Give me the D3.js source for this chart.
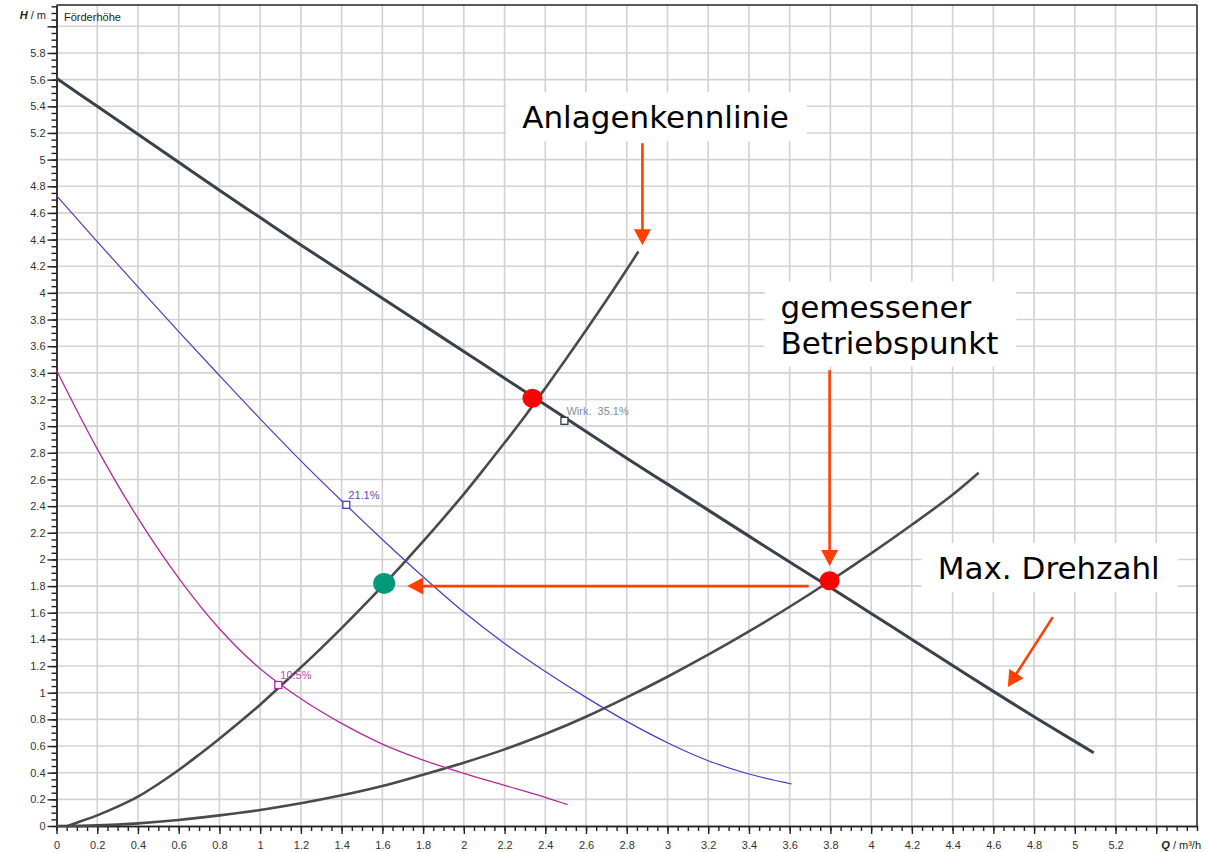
<!DOCTYPE html>
<html><head><meta charset="utf-8">
<script src="https://cdn.jsdelivr.net/npm/d3@7"></script>
<style>
html,body{margin:0;padding:0;background:#fff;}
svg{display:block;}
</style></head>
<body>
<svg id="chart" width="1210" height="852"></svg>
<script>
// ---------- data (Q in m³/h, H in m) ----------
const maxSpeedQ = [0,0.2,0.4,0.6,0.8,1.0,1.2,1.4,1.6,1.8,2.0,2.2,2.4,2.6,2.8,3.0,3.2,3.4,3.6,3.8,4.0,4.2,4.4,4.6,4.8,5.0,5.093];
const maxSpeedH = [5.61,5.40,5.19,4.98,4.77,4.565,4.36,4.16,3.96,3.76,3.56,3.36,3.16,2.96,2.76,2.565,2.37,2.175,1.98,1.79,1.595,1.40,1.205,1.01,0.82,0.635,0.55];
const blueQ = [0,0.2,0.4,0.6,0.8,1.0,1.2,1.4,1.6,1.8,2.0,2.2,2.4,2.6,2.8,3.0,3.2,3.4,3.61];
const blueH = [4.73,4.385,4.045,3.71,3.38,3.055,2.74,2.44,2.15,1.87,1.605,1.37,1.16,0.965,0.785,0.625,0.49,0.39,0.315];
const pinkQ = [0,0.2,0.4,0.6,0.8,1.0,1.2,1.4,1.6,1.8,2.0,2.2,2.4,2.51];
const pinkH = [3.42,2.83,2.31,1.86,1.48,1.18,0.955,0.77,0.615,0.495,0.395,0.305,0.215,0.16];
const sysSteepQ = [0.055,0.1,0.2,0.3,0.4,0.5,0.6,0.7,0.8,0.9,1.0,1.1,1.2,1.3,1.4,1.5,1.6,1.7,1.8,1.9,2.0,2.1,2.2,2.3,2.4,2.5,2.6,2.7,2.8,2.857];
const sysSteepH = [0,0.025,0.08,0.145,0.22,0.315,0.42,0.535,0.655,0.78,0.91,1.05,1.19,1.335,1.485,1.64,1.80,1.965,2.135,2.31,2.49,2.68,2.875,3.075,3.285,3.5,3.72,3.945,4.175,4.31];
const sysFlatQ = [0,0.2,0.4,0.6,0.8,1.0,1.2,1.4,1.6,1.8,2.0,2.2,2.4,2.6,2.8,3.0,3.2,3.4,3.6,3.8,4.0,4.2,4.4,4.528];
const sysFlatH = [0,0.005,0.02,0.045,0.08,0.12,0.17,0.23,0.30,0.385,0.475,0.575,0.69,0.82,0.965,1.12,1.285,1.46,1.645,1.84,2.045,2.26,2.485,2.65];

const effLabels = ["Wirk.  35.1%","21.1%","10.5%"];
const effQ = [2.494,1.423,1.089];
const effH = [3.04,2.41,1.058];

const pointsQ = [2.337,3.796,1.609];
const pointsH = [3.21,1.84,1.82];

const xTickLabels = ["0","0.2","0.4","0.6","0.8","1","1.2","1.4","1.6","1.8","2","2.2","2.4","2.6","2.8","3","3.2","3.4","3.6","3.8","4","4.2","4.4","4.6","4.8","5","5.2"];
const yTickLabels = ["0","0.2","0.4","0.6","0.8","1","1.2","1.4","1.6","1.8","2","2.2","2.4","2.6","2.8","3","3.2","3.4","3.6","3.8","4","4.2","4.4","4.6","4.8","5","5.2","5.4","5.6","5.8"];

const annoTexts = [["Anlagenkennlinie"],["gemessener","Betriebspunkt"],["Max. Drehzahl"]];
const annoQ = [2.287,3.555,4.327];
const annoH = [5.235,3.815,1.853];
// arrows: [Q1,H1,Q2,H2]
const arrows = [[2.877,5.123,2.877,4.358],[3.796,3.42,3.796,1.95],[3.693,1.80,1.722,1.80],[4.892,1.5675,4.671,1.0425]];

// ---------- scales ----------
const svg = d3.select("#chart");
const x = d3.scaleLinear().domain([0,5.6]).range([56.5,1197]);
const y = d3.scaleLinear().domain([0,6.16]).range([826,5]);

const gridColor = "#d2d2d2";
const fontAxis = "'Liberation Sans', Arial, sans-serif";

// grid
const gx = d3.range(1,28).map(i=>+(i*0.2).toFixed(2));
const gy = d3.range(1,31).map(i=>+(i*0.2).toFixed(2));
svg.append("g").selectAll("line").data(gx).join("line")
  .attr("x1",d=>x(d)).attr("x2",d=>x(d)).attr("y1",y(0)).attr("y2",y.range()[1])
  .attr("stroke",gridColor).attr("stroke-width",1.6);
svg.append("g").selectAll("line").data(gy).join("line")
  .attr("y1",d=>y(d)).attr("y2",d=>y(d)).attr("x1",x(0)).attr("x2",x.range()[1])
  .attr("stroke",gridColor).attr("stroke-width",1.6);

// frame
svg.append("line").attr("x1",x(0)).attr("x2",x.range()[1]).attr("y1",y.range()[1]).attr("y2",y.range()[1]).attr("stroke","#222").attr("stroke-width",1.5);
svg.append("line").attr("x1",x.range()[1]).attr("x2",x.range()[1]).attr("y1",y.range()[1]).attr("y2",y(0)).attr("stroke","#222").attr("stroke-width",1.5);

// axes
const minorX = d3.range(0,113).map(i=>+(i*0.05).toFixed(3));
const minorY = d3.range(0,124).map(i=>+(i*0.05).toFixed(3));
const majorX = d3.range(0,28).map(i=>+(i*0.2).toFixed(2));
const majorY = d3.range(0,31).map(i=>+(i*0.2).toFixed(2));

const axX = svg.append("g").attr("transform",`translate(0,${y(0)})`);
axX.call(d3.axisBottom(x).tickValues(minorX).tickSize(5).tickFormat("").tickSizeOuter(0));
axX.call(g=>g.append("g").call(d3.axisBottom(x).tickValues(majorX).tickSize(8).tickSizeOuter(0)
   .tickFormat((d,i)=> i<xTickLabels.length ? xTickLabels[i] : "")));
axX.selectAll("path,line").attr("stroke","#222").attr("stroke-width",1.4);
axX.selectAll("text").attr("font-family",fontAxis).attr("font-size",11).attr("fill","#333").attr("dy","1.05em");

const axY = svg.append("g").attr("transform",`translate(${x(0)},0)`);
axY.call(d3.axisLeft(y).tickValues(minorY).tickSize(5).tickFormat("").tickSizeOuter(0));
axY.call(g=>g.append("g").call(d3.axisLeft(y).tickValues(majorY).tickSize(9).tickSizeOuter(0)
   .tickFormat((d,i)=> i<yTickLabels.length ? yTickLabels[i] : "")));
axY.selectAll("path,line").attr("stroke","#222").attr("stroke-width",1.4);
axY.selectAll("text").attr("font-family",fontAxis).attr("font-size",11).attr("fill","#333").attr("x",-11);

// axis titles
const ht = svg.append("text").attr("x",46).attr("y",19).attr("text-anchor","end")
  .attr("font-family",fontAxis).attr("font-size",11).attr("fill","#222");
ht.append("tspan").attr("font-style","italic").attr("font-weight","bold").text("H");
ht.append("tspan").text(" / m");
svg.append("text").attr("x",64).attr("y",21).attr("font-family",fontAxis).attr("font-size",11).attr("fill","#222").text("Förderhöhe");
const qt = svg.append("text").attr("x",1201).attr("y",849).attr("text-anchor","end")
  .attr("font-family",fontAxis).attr("font-size",11).attr("fill","#222");
qt.append("tspan").attr("font-style","italic").attr("font-weight","bold").text("Q");
qt.append("tspan").text(" / m³/h");

// annotation boxes + text
const annoG = svg.append("g");
annoTexts.forEach((lines,i)=>{
  const g = annoG.append("g");
  const rect = g.append("rect").attr("fill","#fff");
  const t = g.append("text").attr("font-family","'DejaVu Sans', sans-serif").attr("font-size",31).attr("fill","#000");
  lines.forEach((ln,j)=>{
    t.append("tspan").attr("x",x(annoQ[i])).attr("y",y(annoH[i]) + j*36).text(ln);
  });
  const bb = t.node().getBBox();
  rect.attr("x",bb.x-16).attr("y",bb.y-7).attr("width",bb.width+34).attr("height",bb.height+13);
});

// curves
const line = d3.line().x(d=>x(d[0])).y(d=>y(d[1])).curve(d3.curveCatmullRom.alpha(0.5));
const zip = (a,b)=>a.map((v,i)=>[v,b[i]]);
const curves = [
  {q:sysFlatQ,h:sysFlatH,c:"#4a4a4a",w:2.6},
  {q:sysSteepQ,h:sysSteepH,c:"#4a4a4a",w:2.6},
  {q:pinkQ,h:pinkH,c:"#b3289c",w:1.3},
  {q:blueQ,h:blueH,c:"#4b3cc6",w:1.2},
  {q:maxSpeedQ,h:maxSpeedH,c:"#39414b",w:3}
];
svg.append("g").selectAll("path").data(curves).join("path")
  .attr("d",d=>line(zip(d.q,d.h))).attr("fill","none")
  .attr("stroke",d=>d.c).attr("stroke-width",d=>d.w).attr("stroke-linejoin","round");

// efficiency markers
const effColors = ["#333a44","#4b3cc6","#b3289c"];
const effTextColors = ["#7f8ca2","#5a4ac8","#c04ab0"];
const eg = svg.append("g");
eg.selectAll("rect").data(effQ).join("rect")
  .attr("x",(d,i)=>x(d)-3.5).attr("y",(d,i)=>y(effH[i])-3.5).attr("width",7).attr("height",7)
  .attr("fill","#fff").attr("stroke",(d,i)=>effColors[i]).attr("stroke-width",1.3);
eg.selectAll("text").data(effLabels).join("text")
  .attr("x",(d,i)=>x(effQ[i])+2).attr("y",(d,i)=>y(effH[i])-6)
  .attr("font-family",fontAxis).attr("font-size",11).attr("fill",(d,i)=>effTextColors[i])
  .attr("xml:space","preserve").style("white-space","pre").text(d=>d);

// operating points
const ptColors = ["#ff0000","#ff0000","#00997c"];
svg.append("g").selectAll("ellipse").data(pointsQ).join("ellipse")
  .attr("cx",d=>x(d)).attr("cy",(d,i)=>y(pointsH[i]))
  .attr("rx",(d,i)=>i===2?11:10).attr("ry",(d,i)=>i===2?10.5:9.5)
  .attr("fill",(d,i)=>ptColors[i]);

// arrows
const arrowColor = "#ff4000";
const ag = svg.append("g");
arrows.forEach(a=>{
  const x1=x(a[0]), y1=y(a[1]), x2=x(a[2]), y2=y(a[3]);
  const ang = Math.atan2(y2-y1,x2-x1);
  const L=16, W=8.5;
  const bx = x2 - L*Math.cos(ang), by = y2 - L*Math.sin(ang);
  ag.append("line").attr("x1",x1).attr("y1",y1).attr("x2",bx+2*Math.cos(ang)).attr("y2",by+2*Math.sin(ang))
    .attr("stroke",arrowColor).attr("stroke-width",2.6);
  const px = -Math.sin(ang), py = Math.cos(ang);
  ag.append("polygon").attr("points",[[x2,y2],[bx+W*px,by+W*py],[bx-W*px,by-W*py]].map(p=>p.join(",")).join(" "))
    .attr("fill",arrowColor);
});
</script>
</body></html>
